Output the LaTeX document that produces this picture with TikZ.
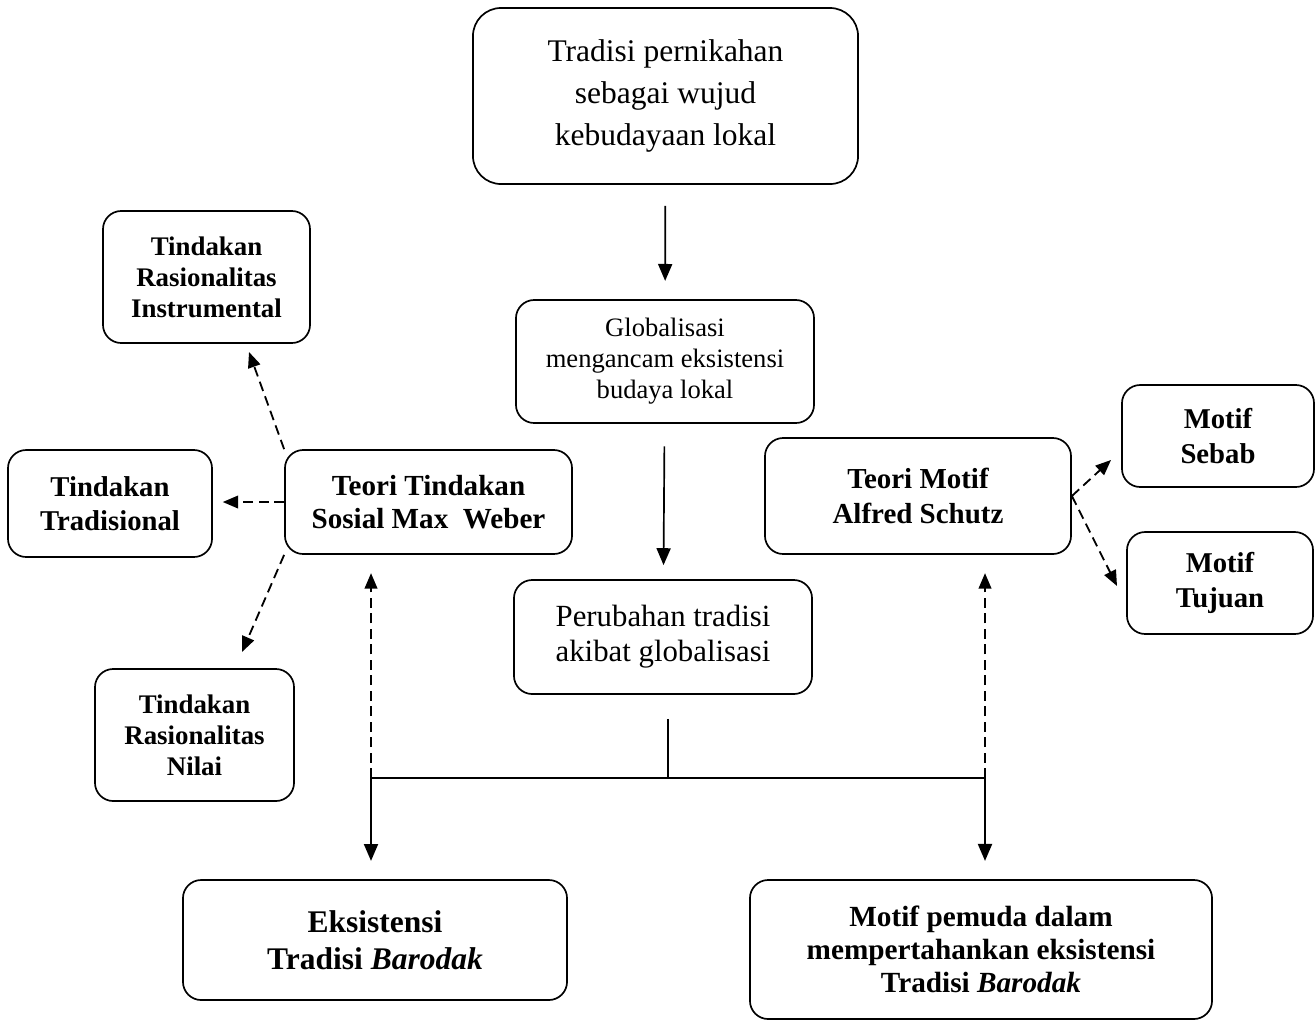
\documentclass[tikz,border=0pt]{standalone}
\usepackage{fontspec}
\setmainfont{Liberation Serif}
\usetikzlibrary{arrows.meta}

\newcommand{\fsz}[2]{\fontsize{#1}{#2}\selectfont}

\begin{document}
\begin{tikzpicture}[x=0.025cm, y=-0.025cm,
  box/.style={draw, rounded corners=13pt, line width=1.2pt, align=center, inner sep=0pt},
  solidarrow/.style={line width=1.2pt, -{Triangle[length=12pt,width=10pt]}},
  dasharrow/.style={line width=1.3pt, dash pattern=on 7pt off 4pt, -{Triangle[length=11pt,width=9pt]}}]
  \useasboundingbox (0,0) rectangle (1316,1022);
  % middle column
  \node (tradisi) [box, rounded corners=20pt, minimum width=9.625cm, minimum height=4.4cm, font=\fsz{22.4}{30}] at (665.5,96) {Tradisi pernikahan\\sebagai wujud\\kebudayaan lokal};
  \node (glob) [box, minimum width=7.45cm, minimum height=3.075cm, font=\fsz{18.9}{22}] at (665,361.5) {Globalisasi\\mengancam eksistensi\\budaya lokal};
  \node (perub) [box, minimum width=7.45cm, minimum height=2.85cm, font=\fsz{21.9}{25}] at (663,637) {Perubahan tradisi\\akibat globalisasi};
  % theories
  \node (weber) [box, minimum width=7.175cm, minimum height=2.6cm, font=\bfseries\fsz{20.7}{24}] at (428.5,502) {Teori Tindakan\\Sosial Max~~Weber};
  \node (schutz) [box, minimum width=7.65cm, minimum height=2.9cm, font=\bfseries\fsz{20.6}{24.5}] at (918,496) {Teori Motif\\Alfred Schutz};
  % types of action
  \node (instr) [box, minimum width=5.175cm, minimum height=3.3cm, font=\bfseries\fsz{19.1}{22}] at (206.5,277) {Tindakan\\Rasionalitas\\Instrumental};
  \node (tradisional) [box, minimum width=5.1cm, minimum height=2.675cm, font=\bfseries\fsz{20.4}{24.5}] at (110,503.5) {Tindakan\\Tradisional};
  \node (nilai) [box, minimum width=4.975cm, minimum height=3.3cm, font=\bfseries\fsz{19.1}{22}] at (194.5,735) {Tindakan\\Rasionalitas\\Nilai};
  % motives
  \node (sebab) [box, minimum width=4.8cm, minimum height=2.55cm, font=\bfseries\fsz{20.4}{25}] at (1218,436) {Motif\\Sebab};
  \node (tujuan) [box, minimum width=4.65cm, minimum height=2.55cm, font=\bfseries\fsz{20.4}{25}] at (1220,583) {Motif\\Tujuan};
  % results
  \node (eks) [box, minimum width=9.6cm, minimum height=3cm, font=\bfseries\fsz{22.4}{26}] at (375,940) {Eksistensi\\Tradisi \textit{Barodak}};
  \node (pemuda) [box, minimum width=11.55cm, minimum height=3.475cm, font=\bfseries\fsz{20.8}{23.5}] at (981,949.5) {Motif pemuda dalam\\mempertahankan eksistensi\\Tradisi \textit{Barodak}};
  % junctions and free ends
  \coordinate (jc) at (668,778);
  \coordinate (jl) at (371,778);
  \coordinate (jr) at (985,778);
  \coordinate (tipinstr) at (249,352);
  \coordinate (tipnilai) at (242,652);
  \coordinate (tipsebab) at (1111,460);
  \coordinate (tiptujuan) at (1117,586);
  % main flow
  \draw[solidarrow, shorten <=15pt, shorten >=13pt] (tradisi) -- (glob);
  \draw[solidarrow, shorten <=16pt, shorten >=10pt] (glob) -- (perub);
  \draw[line width=0.8pt, shorten <=17pt] (perub.south -| jc) -- (jc);
  \draw[line width=1.2pt] (jl) -- (jr);
  \draw[solidarrow, shorten >=13pt] (jl) -- (jl |- eks.north);
  \draw[solidarrow, shorten >=13pt] (jr) -- (jr |- pemuda.north);
  \draw[dasharrow, shorten >=13pt] (jl) -- (jl |- weber.south);
  \draw[dasharrow, shorten >=13pt] (jr) -- (jr |- schutz.south);
  % weber
  \draw[dasharrow] (weber.north west) -- (tipinstr);
  \draw[dasharrow, shorten >=7pt] (weber.west) -- (weber.west -| tradisional.east);
  \draw[dasharrow] (weber.south west) -- (tipnilai);
  % schutz
  \draw[dasharrow] (schutz.east) -- (tipsebab);
  \draw[dasharrow] (schutz.east) -- (tiptujuan);
\end{tikzpicture}
\end{document}
